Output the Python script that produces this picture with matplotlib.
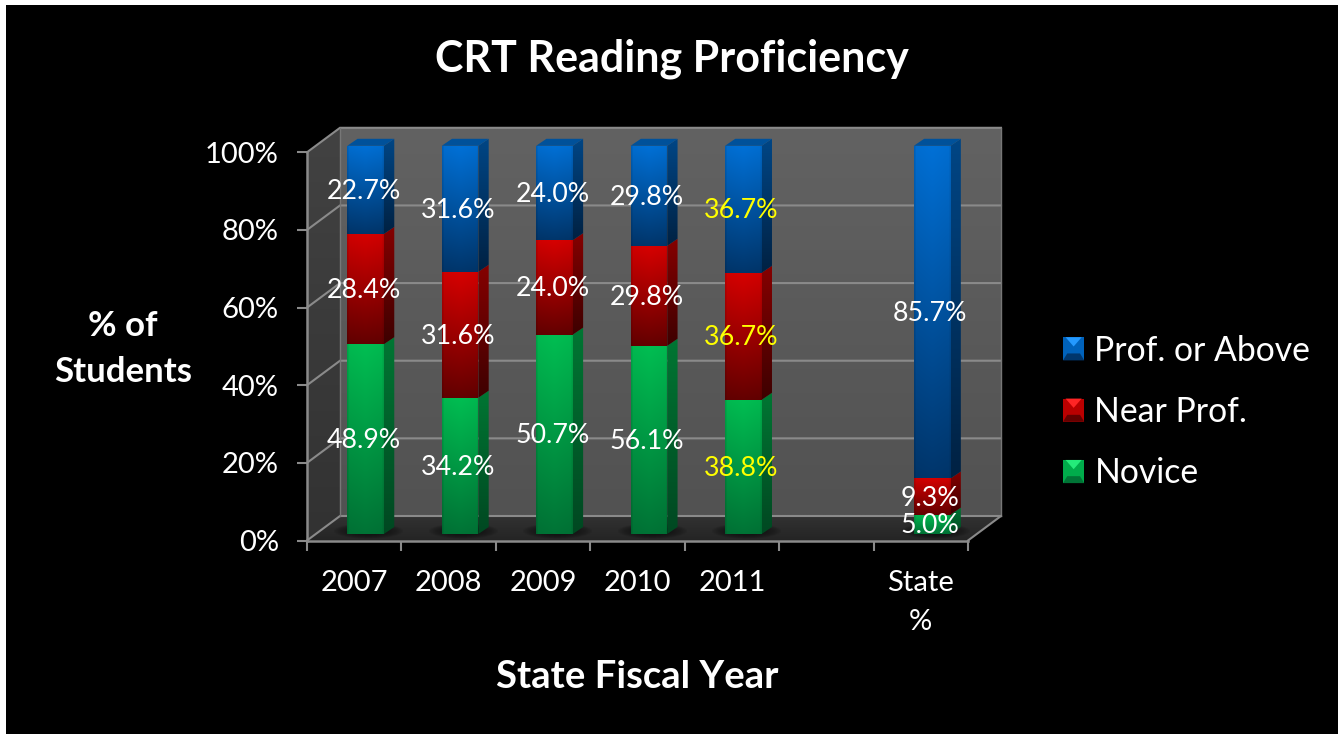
import numpy as np
import matplotlib
matplotlib.use("Agg")
import matplotlib.pyplot as plt
from matplotlib.patches import Polygon, Rectangle
from matplotlib.legend_handler import HandlerBase

categories = ["2007", "2008", "2009", "2010", "2011", "", "State\n%"]
novice = [48.9, 34.2, 50.7, 56.1, 38.8, np.nan, 5.0]
near_prof = [28.4, 31.6, 24.0, 29.8, 36.7, np.nan, 9.3]
prof_above = [22.7, 31.6, 24.0, 29.8, 36.7, np.nan, 85.7]
series_names = ["Novice", "Near Prof.", "Prof. or Above"]
y_ticks = [0, 20, 40, 60, 80, 100]
highlight_category = "2011"

TOP_COL = [np.array(c) / 255 for c in [(0, 190, 82), (214, 0, 0), (0, 112, 214)]]
BOT_COL = [np.array(c) / 255 for c in [(0, 116, 54), (100, 0, 0), (0, 54, 108)]]

W, H = 1341, 734
fig = plt.figure(figsize=(W / 100, H / 100), dpi=100, facecolor="white")
fig.add_artist(Rectangle((6 / W, 0), (1338 - 6) / W, (H - 5) / H, transform=fig.transFigure,
                         facecolor="black", edgecolor="none", zorder=-10))
plt.rcParams["font.family"] = ["Lato", "DejaVu Sans"]

L, R, T, B = 307.0, 968.0, 152.3, 540.5
ax = fig.add_axes([L / W, 1 - B / H, (R - L) / W, (B - T) / H])
ax.patch.set_visible(False)
n = len(categories)
px = n / (R - L)      # data units per pixel, x
py = 100 / (B - T)    # data units per pixel, y

wall_dx, wall_dy = 33 * px, 24.5 * py
bar_dx, bar_dy = 11.4 * px, 6.5 * py
depth_dx, depth_dy = 10.3 * px, 7 * py
bar_w = 36.7 * px
lab_dx, lab_dy = 9.5 * px, 5.0 * py
GRID = "#8a8a8a"


def grad_poly(verts, top, bot, z, horiz=None):
    """Polygon filled with a vertical gradient image clipped to it."""
    v = np.array(verts)
    x0, x1, y0, y1 = v[:, 0].min(), v[:, 0].max(), v[:, 1].min(), v[:, 1].max()
    t = np.linspace(0, 1, 64)[:, None, None]
    top, bot = np.array(top), np.array(bot)
    img = np.repeat(top * (1 - t) + bot * t, 24, axis=1)
    if horiz is not None:
        img = img * np.interp(np.linspace(0, 1, img.shape[1]), *horiz)[None, :, None]
    im = ax.imshow(np.clip(img, 0, 1), extent=(x0, x1, y0, y1), origin="upper", aspect="auto",
                   zorder=z, interpolation="bilinear")
    p = Polygon(v, closed=True, transform=ax.transData, facecolor="none", edgecolor="none")
    ax.add_patch(p)
    im.set_clip_box(fig.bbox)
    im.set_clip_path(p)
    return im


def g(v):
    return [v / 255] * 3


# walls and floor
grad_poly([(wall_dx, wall_dy), (n + wall_dx, wall_dy), (n + wall_dx, 100 + wall_dy), (wall_dx, 100 + wall_dy)],
          g(98), g(82), 1)
grad_poly([(0, 0), (wall_dx, wall_dy), (wall_dx, 100 + wall_dy), (0, 100)], g(66), g(50), 1.1)
grad_poly([(0, 0), (n, 0), (n + wall_dx, wall_dy), (wall_dx, wall_dy)], g(50), g(36), 1.2)

for yv in y_ticks:
    ax.plot([0, wall_dx, n + wall_dx], [yv, yv + wall_dy, yv + wall_dy], color=GRID, lw=1.5,
            clip_on=False, zorder=2, solid_joinstyle="miter")
ax.plot([n + wall_dx, n + wall_dx], [wall_dy, 100 + wall_dy], color="#777777", lw=1, clip_on=False, zorder=2)
ax.plot([wall_dx, wall_dx], [wall_dy, 100 + wall_dy], color="#777777", lw=1, clip_on=False, zorder=2)
ax.plot([n, n + wall_dx], [0, wall_dy], color=GRID, lw=1.5, clip_on=False, zorder=2)

# normalise to 100 % stacks, as the chart does
data = np.array([novice, near_prof, prof_above], dtype=float)
totals = data.sum(axis=0)
shares = data / totals * 100
bottoms = np.vstack([np.zeros(n), np.cumsum(shares, axis=0)[:-1]])

# bars
for i, cat in enumerate(categories):
    if np.isnan(totals[i]):
        continue
    x0 = i + 0.5 + bar_dx - bar_w / 2
    x1 = x0 + bar_w
    # soft shadow on the floor
    xx, yy = np.meshgrid(np.linspace(-1, 1, 60), np.linspace(-1, 1, 30))
    a = np.clip(1 - (xx ** 2 + yy ** 2), 0, 1) ** 0.8 * 0.62
    shadow = np.dstack([np.zeros_like(a)] * 3 + [a])
    ax.imshow(shadow, extent=(x0 - 14 * px, x1 + 20 * px, bar_dy - 5 * py, bar_dy + 11 * py),
              aspect="auto", zorder=2.5, clip_on=False)
    for s in range(3):
        y0 = bottoms[s, i]
        y1 = y0 + shares[s, i]
        zb = 3 + s * 0.1
        top, bot = TOP_COL[s], BOT_COL[s]
        grad_poly([(x0, y0 + bar_dy), (x1, y0 + bar_dy), (x1, y1 + bar_dy), (x0, y1 + bar_dy)],
                  top, bot, zb + 0.02, horiz=([0, .04, .5, .96, 1], [.86, .97, 1, .97, .9]))
        grad_poly([(x1, y0 + bar_dy), (x1 + depth_dx, y0 + bar_dy + depth_dy),
                   (x1 + depth_dx, y1 + bar_dy + depth_dy), (x1, y1 + bar_dy)],
                  top * .62, bot * .62, zb)
        if s == 2:
            ax.add_patch(Polygon([(x0, y1 + bar_dy), (x1, y1 + bar_dy),
                                  (x1 + depth_dx, y1 + bar_dy + depth_dy),
                                  (x0 + depth_dx, y1 + bar_dy + depth_dy)],
                                 facecolor=top * .72, edgecolor="none", zorder=zb, clip_on=False))
        ax.text(i + 0.5 + lab_dx, (y0 + y1) / 2 + lab_dy, f"{data[s, i]:.1f}%",
                color="#ffff00" if cat == highlight_category else "white",
                fontsize=19.3, ha="center", va="center", zorder=6, clip_on=False)

# axes, ticks
ax.set_xlim(0, n)
ax.set_ylim(0, 100)
for side in ("top", "right"):
    ax.spines[side].set_visible(False)
for side in ("left", "bottom"):
    ax.spines[side].set_color(GRID)
    ax.spines[side].set_linewidth(1.8)
    ax.spines[side].set_zorder(5)
ax.set_yticks(y_ticks)
ax.set_yticklabels([f"{v}%" for v in y_ticks])
ax.set_xticks(range(n + 1))
ax.set_xticklabels([])
ax.set_xticks(np.arange(n) + 0.5, minor=True)
ax.set_xticklabels(categories, minor=True, linespacing=1.62, va="top")
ax.tick_params(axis="both", which="major", color=GRID, width=1.5, length=7.2)
ax.tick_params(axis="y", labelcolor="white", labelsize=21, pad=13)
ax.tick_params(axis="x", which="minor", length=0, labelcolor="white", labelsize=21, pad=21)

# titles
def figtext(x, y, s, **kw):
    fig.text(x / W, 1 - y / H, s, color="white", ha="center", va="center", **kw)


figtext(672, 59, "CRT Reading Proficiency", fontsize=31, fontweight="bold")
figtext(637, 677, "State Fiscal Year", fontsize=27.5, fontweight="bold")
figtext(123, 349, "% of\nStudents", fontsize=25, fontweight="bold", linespacing=1.56)


# legend
class Swatch:
    def __init__(self, idx):
        self.idx = idx


class SwatchHandler(HandlerBase):
    def create_artists(self, legend, orig, xd, yd, width, height, fontsize, trans):
        top, bot = TOP_COL[orig.idx], BOT_COL[orig.idx]
        mid = top * .75 + bot * .25
        x, y, w, h = -xd, -yd, width, height
        cx = x + w / 2
        lighter = np.clip(top * 1.05 + 0.14, 0, 1)
        arts = [
            Polygon([(x, y), (x + w, y), (x + w, y + h), (x, y + h)], facecolor=mid),
            Polygon([(x + w * .12, y + h), (x + w * .88, y + h), (cx, y + h * .6)], facecolor=lighter),
            Polygon([(x, y), (x + w, y), (x + w * .8, y + h * .3), (x + w * .2, y + h * .3)], facecolor=bot),
        ]
        for a in arts:
            a.set_edgecolor("none")
            a.set_transform(trans)
        return arts


handles = [Swatch(2), Swatch(1), Swatch(0)]
labels = [series_names[2], series_names[1], series_names[0]]
leg = fig.legend(handles, labels, handler_map={Swatch: SwatchHandler()},
                 loc="center left", bbox_to_anchor=(1063 / W, 1 - 412 / H), borderaxespad=0, borderpad=0,
                 frameon=False, fontsize=24.3, labelcolor="white", handlelength=0.63, handleheight=0.68,
                 handletextpad=0.3, labelspacing=0.87)

fig.savefig("out.png", dpi=100, facecolor=fig.get_facecolor())
